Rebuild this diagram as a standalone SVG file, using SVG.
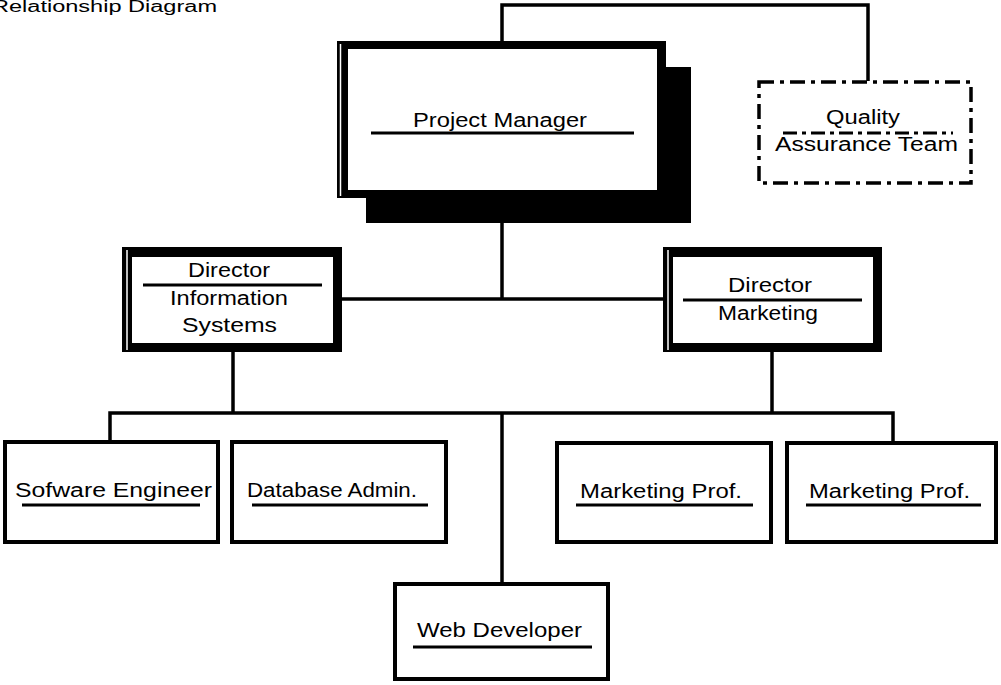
<svg xmlns="http://www.w3.org/2000/svg" width="1001" height="685" viewBox="0 0 1001 685">
<style>
  text { font-family: "Liberation Sans", Arial, sans-serif; font-size: 20px; fill: #000; }
  .conn { stroke: #000; stroke-width: 3.5; fill: none; }
  .box { fill: #fff; stroke: #000; stroke-width: 4; }
  .ul { stroke: #000; stroke-width: 3; }
  .qa { fill: #fff; stroke: #000; stroke-width: 3.5; stroke-dasharray: 15 6 4 6; }
  .qaul { stroke: #000; stroke-width: 3; stroke-dasharray: 14 5 4 5; }
  .thin { stroke: #fff; stroke-width: 1.5; }
</style>
<rect width="1001" height="685" fill="#fff"/>
<text x="-8" y="12" textLength="225" lengthAdjust="spacingAndGlyphs" style="font-size:16px">Relationship Diagram</text>

<g id="connectors">
  <polyline class="conn" points="502,41 502,5 868,5 868,81"/>
  <line class="conn" x1="502" y1="222" x2="502" y2="299"/>
  <line class="conn" x1="340" y1="299" x2="665" y2="299"/>
  <line class="conn" x1="233" y1="350" x2="233" y2="413"/>
  <line class="conn" x1="772" y1="350" x2="772" y2="413"/>
  <polyline class="conn" points="110,441 110,413 893,413 893,441"/>
  <line class="conn" x1="502" y1="413" x2="502" y2="584"/>
</g>

<g id="project-manager">
  <rect x="366" y="67" width="325" height="156" fill="#000"/>
  <rect x="337" y="41" width="329" height="157" fill="#000"/>
  <rect x="348" y="49" width="309" height="141" fill="#fff"/>
  <line class="thin" x1="340.5" y1="44" x2="340.5" y2="196"/>
  <text x="413" y="127" textLength="174" lengthAdjust="spacingAndGlyphs">Project Manager</text>
  <line class="ul" x1="371" y1="133" x2="634" y2="133"/>
</g>

<g id="quality-assurance">
  <rect class="qa" x="759" y="82" width="212" height="101"/>
  <text x="863" y="124" text-anchor="middle" textLength="74" lengthAdjust="spacingAndGlyphs">Quality</text>
  <line class="qaul" x1="783" y1="133" x2="953" y2="133"/>
  <text x="775" y="151" textLength="183" lengthAdjust="spacingAndGlyphs">Assurance Team</text>
</g>

<g id="director-is">
  <rect x="122" y="247" width="220" height="105" fill="#000"/>
  <rect x="132" y="257" width="201" height="86" fill="#fff"/>
  <line class="thin" x1="127" y1="250" x2="127" y2="350"/>
  <text x="188" y="277" textLength="82" lengthAdjust="spacingAndGlyphs">Director</text>
  <line class="ul" x1="143" y1="285" x2="322" y2="285"/>
  <text x="170" y="305" textLength="118" lengthAdjust="spacingAndGlyphs">Information</text>
  <text x="182" y="332" textLength="95" lengthAdjust="spacingAndGlyphs">Systems</text>
</g>

<g id="director-marketing">
  <rect x="663" y="247" width="219" height="105" fill="#000"/>
  <rect x="673" y="257" width="200" height="86" fill="#fff"/>
  <line class="thin" x1="668" y1="250" x2="668" y2="350"/>
  <text x="728" y="292" textLength="84" lengthAdjust="spacingAndGlyphs">Director</text>
  <line class="ul" x1="683" y1="300" x2="862" y2="300"/>
  <text x="718" y="320" textLength="100" lengthAdjust="spacingAndGlyphs">Marketing</text>
</g>

<g id="software-engineer">
  <rect class="box" x="5" y="442" width="213" height="100"/>
  <text x="15" y="497" textLength="197" lengthAdjust="spacingAndGlyphs">Sofware Engineer</text>
  <line class="ul" x1="22" y1="505" x2="200" y2="505"/>
</g>

<g id="database-admin">
  <rect class="box" x="232" y="442" width="214" height="100"/>
  <text x="247" y="497" textLength="170" lengthAdjust="spacingAndGlyphs">Database Admin.</text>
  <line class="ul" x1="252" y1="505" x2="428" y2="505"/>
</g>

<g id="marketing-prof-1">
  <rect class="box" x="557" y="443" width="214" height="99"/>
  <text x="580" y="498" textLength="162" lengthAdjust="spacingAndGlyphs">Marketing Prof.</text>
  <line class="ul" x1="576" y1="505" x2="753" y2="505"/>
</g>

<g id="marketing-prof-2">
  <rect class="box" x="787" y="443" width="209" height="99"/>
  <text x="809" y="498" textLength="161" lengthAdjust="spacingAndGlyphs">Marketing Prof.</text>
  <line class="ul" x1="806" y1="505" x2="981" y2="505"/>
</g>

<g id="web-developer">
  <rect class="box" x="395" y="584" width="213" height="95"/>
  <text x="417" y="637" textLength="165" lengthAdjust="spacingAndGlyphs">Web Developer</text>
  <line class="ul" x1="413" y1="647" x2="592" y2="647"/>
</g>
</svg>
